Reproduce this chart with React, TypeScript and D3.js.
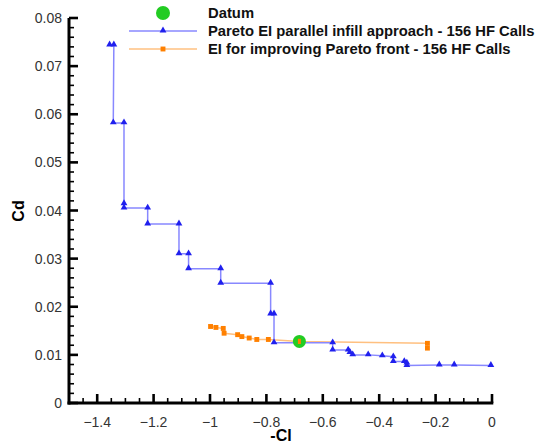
import React, { useEffect, useRef } from 'react';
import * as d3 from 'd3';

// Pareto EI parallel infill approach - 156 HF Calls (staircase front)
const paretoCl = [-1.356, -1.341, -1.343, -1.305, -1.305, -1.305, -1.221, -1.221, -1.110, -1.110, -1.076, -1.076, -0.962, -0.962, -0.785, -0.785, -0.773, -0.773, -0.565, -0.565, -0.510, -0.504, -0.494, -0.439, -0.389, -0.350, -0.350, -0.311, -0.302, -0.302, -0.187, -0.134, -0.004];
const paretoCd = [0.0744, 0.0744, 0.0582, 0.0582, 0.0414, 0.0405, 0.0405, 0.0372, 0.0372, 0.0310, 0.0310, 0.0279, 0.0279, 0.0249, 0.0249, 0.0185, 0.0185, 0.0125, 0.0125, 0.0110, 0.0110, 0.0105, 0.0100, 0.0100, 0.0098, 0.0096, 0.0086, 0.0086, 0.0083, 0.0078, 0.0079, 0.0079, 0.0078];

// EI for improving Pareto front - 156 HF Calls
const eiCl = [-0.998, -0.979, -0.953, -0.950, -0.902, -0.887, -0.861, -0.834, -0.793, -0.683, -0.229, -0.229];
const eiCd = [0.0159, 0.0157, 0.0155, 0.0145, 0.0142, 0.0138, 0.0135, 0.0132, 0.0132, 0.0128, 0.0124, 0.0114];

const datum = { cl: -0.683, cd: 0.0128 };

const xMajor = [-1.4, -1.2, -1, -0.8, -0.6, -0.4, -0.2, 0];
const yMajor = [0, 0.01, 0.02, 0.03, 0.04, 0.05, 0.06, 0.07, 0.08];

const legendLabels = [
  'Datum',
  'Pareto EI parallel infill approach - 156 HF Calls',
  'EI for improving Pareto front - 156 HF Calls',
];

const W = 546, H = 445;
const FONT = 'Arial, "Liberation Sans", sans-serif';

const App = () => {
  const svgRef = useRef<SVGSVGElement>(null);

  useEffect(() => {
    const svg = d3.select(svgRef.current);
    svg.selectAll('*').remove();

    const x = d3.scaleLinear().domain([-1.5, 0]).range([69, 492]);
    const y = d3.scaleLinear().domain([0, 0.08]).range([403, 18]);
    const x0 = 69, y0 = 403;

    const xMinor = d3.range(-1.45, 0, 0.05).map(v => +v.toFixed(2)).filter(v => !xMajor.some(m => Math.abs(m - v) < 1e-6));
    const yMinor = d3.range(0.002, 0.08, 0.002).map(v => +v.toFixed(3)).filter(v => !yMajor.some(m => Math.abs(m - v) < 1e-6));

    const tick = (x1: number, y1: number, x2: number, y2: number, w: number) =>
      svg.append('line')
        .attr('x1', x1).attr('y1', y1).attr('x2', x2).attr('y2', y2)
        .attr('stroke', '#000').attr('stroke-width', w);
    // x ticks, pointing up into the plot
    xMinor.forEach(v => tick(x(v), y0, x(v), y0 - 5, 1.6));
    xMajor.forEach(v => tick(x(v), y0, x(v), y0 - 9, 2.6));
    // y ticks, pointing right into the plot
    yMinor.forEach(v => tick(x0, y(v), x0 + 5, y(v), 1.6));
    yMajor.forEach(v => tick(x0, y(v), x0 + 9, y(v), 2.6));

    // axis lines
    tick(x0 - 1.5, y0, x(0) + 1.3, y0, 3);
    tick(x0, y0 + 1.5, x0, y(0.08), 3);

    // tick labels
    svg.append('g').selectAll('text').data(xMajor).join('text')
      .attr('x', d => x(d)).attr('y', 427)
      .attr('text-anchor', 'middle')
      .style('font-family', FONT).style('font-size', '14px').style('fill', '#333')
      .text(d => d3.format('')(d));
    svg.append('g').selectAll('text').data(yMajor).join('text')
      .attr('x', 62).attr('y', d => y(d) + 5)
      .attr('text-anchor', 'end')
      .style('font-family', FONT).style('font-size', '14px').style('fill', '#333')
      .text(d => (d === 0 ? '0' : d3.format('.2f')(d)));

    // axis titles
    svg.append('text')
      .attr('x', 281).attr('y', 441)
      .attr('text-anchor', 'middle')
      .style('font-family', FONT).style('font-size', '16px').style('font-weight', 'bold')
      .text('-Cl');
    svg.append('text')
      .attr('transform', 'translate(24,211) rotate(-90)')
      .attr('text-anchor', 'middle')
      .style('font-family', FONT).style('font-size', '16px').style('font-weight', 'bold')
      .text('Cd');

    const tri = d3.symbol().type(d3.symbolTriangle).size(20);
    const sq = d3.symbol().type(d3.symbolSquare).size(24);

    // orange series
    const eiPts = eiCl.map((c, i) => [c, eiCd[i]]);
    const line = d3.line<number[]>().x(d => x(d[0])).y(d => y(d[1]));
    svg.append('path')
      .attr('d', line(eiPts))
      .attr('fill', 'none').attr('stroke', '#ffc080').attr('stroke-width', 1.5);
    svg.append('g').selectAll('path').data(eiPts).join('path')
      .attr('d', sq)
      .attr('transform', d => `translate(${x(d[0])},${y(d[1])})`)
      .attr('fill', '#ff8000');

    // blue series
    const parPts = paretoCl.map((c, i) => [c, paretoCd[i]]);
    svg.append('path')
      .attr('d', line(parPts))
      .attr('fill', 'none').attr('stroke', '#8888ff').attr('stroke-width', 1.5);
    svg.append('g').selectAll('path').data(parPts).join('path')
      .attr('d', tri)
      .attr('transform', d => `translate(${x(d[0])},${y(d[1]) - 0.5})`)
      .attr('fill', '#2020ee');

    // datum
    svg.append('circle')
      .attr('cx', x(datum.cl)).attr('cy', y(datum.cd)).attr('r', 6.5)
      .attr('fill', '#22cc22');
    svg.append('path')
      .attr('d', d3.symbol().type(d3.symbolSquare).size(14)())
      .attr('transform', `translate(${x(datum.cl)},${y(datum.cd)}) scale(0.8,1.4)`)
      .attr('fill', '#ff8000');

    // legend
    const lg = svg.append('g');
    const rows = [13, 31, 49];
    lg.append('circle').attr('cx', 163).attr('cy', rows[0]).attr('r', 7).attr('fill', '#22cc22');
    lg.append('line').attr('x1', 129).attr('x2', 197).attr('y1', rows[1]).attr('y2', rows[1])
      .attr('stroke', '#8888ff').attr('stroke-width', 1.5);
    lg.append('path').attr('d', tri).attr('transform', `translate(163,${rows[1] - 0.5})`).attr('fill', '#2020ee');
    lg.append('line').attr('x1', 129).attr('x2', 197).attr('y1', rows[2]).attr('y2', rows[2])
      .attr('stroke', '#ffc080').attr('stroke-width', 1.5);
    lg.append('path').attr('d', sq).attr('transform', `translate(163,${rows[2]})`).attr('fill', '#ff8000');
    lg.selectAll('text').data(legendLabels).join('text')
      .attr('x', 208).attr('y', (d, i) => rows[i] + 5)
      .style('font-family', FONT).style('font-size', '14.8px').style('font-weight', 'bold')
      .style('fill', '#111')
      .text(d => d);
  }, []);

  return (
    <svg ref={svgRef} width={W} height={H}
      style={{ position: 'absolute', left: 0, top: 0, background: '#fff' }} />
  );
};

export default App;
